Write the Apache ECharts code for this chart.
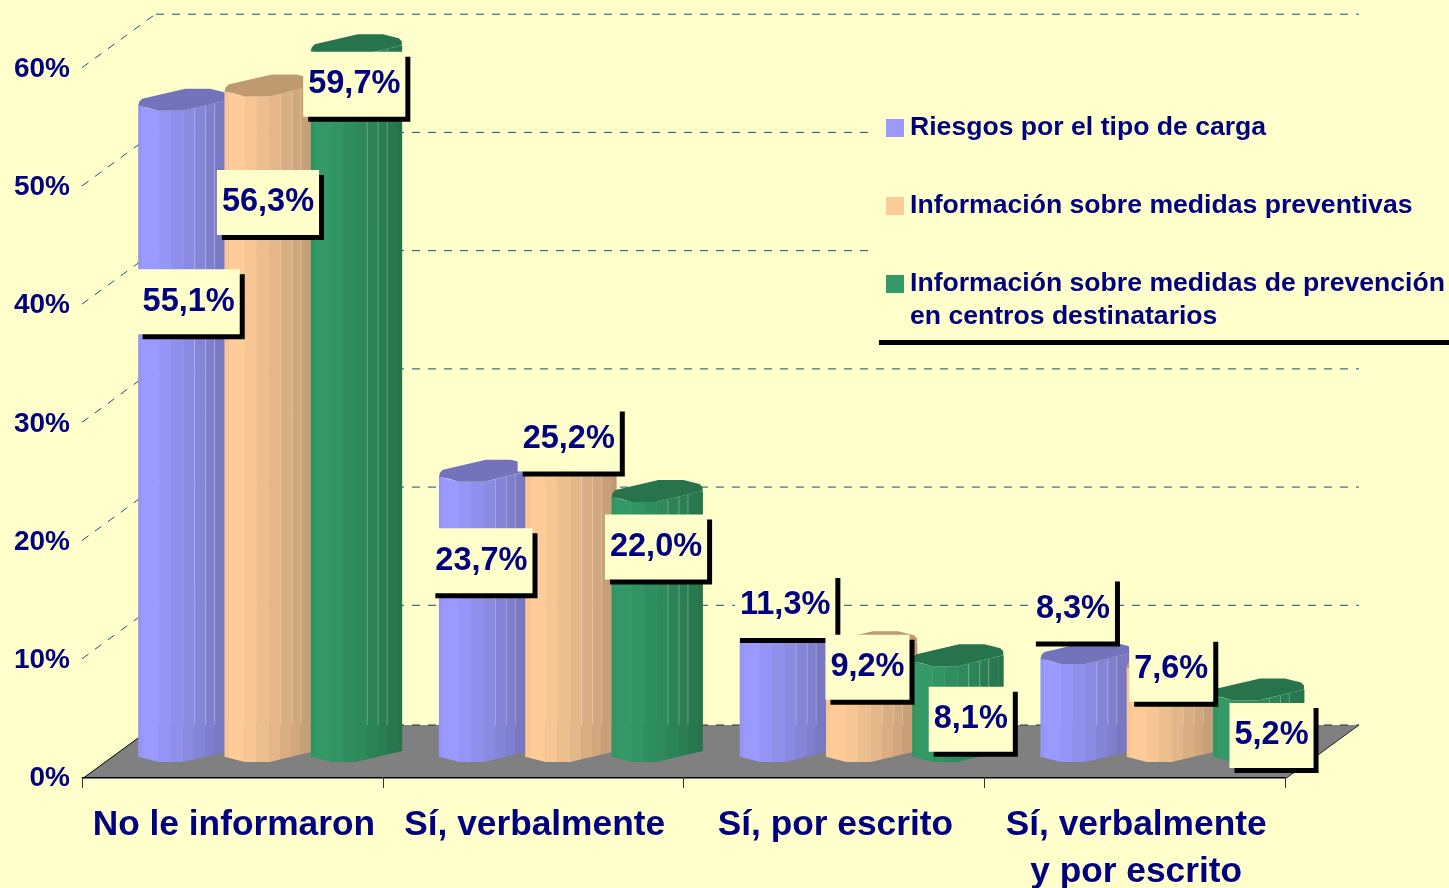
<!DOCTYPE html>
<html><head><meta charset="utf-8">
<style>html,body{margin:0;padding:0;background:#FFFFCC}#c{width:1449px;height:888px}</style>
<script src="https://cdn.jsdelivr.net/npm/echarts@6/dist/echarts.min.js"></script>
</head><body><div id="c"></div>
<script>
const categories = ['No le informaron', 'Sí, verbalmente', 'Sí, por escrito', 'Sí, verbalmente\ny por escrito'];
const seriesNames = ['Riesgos por el tipo de carga', 'Información sobre medidas preventivas', 'Información sobre medidas de prevención en centros destinatarios'];
const riesgos = [55.1, 23.7, 11.3, 8.3];
const preventivas = [56.3, 25.2, 9.2, 7.6];
const destinatarios = [59.7, 22.0, 8.1, 5.2];
const yTicks = [0, 10, 20, 30, 40, 50, 60];

const NAVY = '#000080', BG = '#FFFFCC';
const palette = [
  {face: [153,153,255], end: [117,117,187], cap: '#7373BB'},
  {face: [255,204,153], end: [191,153,115], cap: '#BF9970'},
  {face: [51,153,102],  end: [38,115,76],   cap: '#26734C'}
];
// 3D projection of the original chart, in pixels
const DEPTH_X = 74, DEPTH_Y = -54, BASE_DROP = 15, FLOOR_DROP = 2;
const BAR_W = 91, BAR_PITCH = 86.3, FIRST_BAR = -94.2;
// label placement relative to each bar's centre/top
const labelShift = [
  [[5,191],[-3,79],[0,-23],[-13,-55]],
  [[-2,106],[-2,-25],[-4,14],[-1,-3]],
  [[-2,28],[-1,45],[13,53],[13,35]]
];
const facetEdges = [0,4,20,32,45,56,67,76,86,91];
const facetShade = [.12,0,.12,.28,.42,.58,.72,.88,1];
const highlightEdges = [56,67,76];
function profile(dx){
  const k=[[0,-5],[10,-3],[20,0],[45,0],[91,-11]];
  for(let i=1;i<k.length;i++) if(dx<=k[i][0]){
    const t=(dx-k[i-1][0])/(k[i][0]-k[i-1][0]);
    return k[i-1][1]+t*(k[i][1]-k[i-1][1]);
  }
  return -11;
}
function mix(p,t){const c=p.face.map((v,i)=>Math.round(v+(p.end[i]-v)*t));return `rgb(${c})`;}

function barRenderer(s){
  return function(params, api){
    const cat=api.value(0), val=api.value(1);
    const top=api.coord([cat,val]), base=api.coord([cat,0]);
    const x0=top[0]+FIRST_BAR+s*BAR_PITCH, yT=top[1]-BASE_DROP, yB=base[1]-BASE_DROP;
    const backY=base[1]+DEPTH_Y+FLOOR_DROP;
    const children=[], p=palette[s];
    for(let i=0;i<facetShade.length;i++){
      const a=facetEdges[i], b=facetEdges[i+1];
      children.push({type:'polygon',shape:{points:[
        [x0+a,yT+profile(a)],[x0+b+.4,yT+profile(b)],[x0+b+.4,yB+profile(b)],[x0+a,yB+profile(a)]
      ]},style:{fill:mix(p,facetShade[i])}});
    }
    highlightEdges.forEach(e=>{
      children.push({type:'line',shape:{x1:x0+e+.5,y1:yT+profile(e),x2:x0+e+.5,y2:Math.max(backY,yT+profile(e))},
        style:{stroke:'rgba(255,255,255,.28)',lineWidth:1}});
    });
    const cap=[[0,-5],[1,-9],[4,-12],[47,-22],[72,-22],[80,-20],[88,-18],[91,-15],[91,-11],[45,0],[20,0],[10,-3]];
    children.push({type:'polygon',shape:{points:cap.map(q=>[x0+q[0],yT+q[1]])},style:{fill:p.cap}});
    return {type:'group',children};
  };
}
function wallRenderer(params, api){
  const tick=api.value(0), cs=params.coordSys, pt=api.coord([0,tick]);
  const y=pt[1], L=cs.x, R=cs.x+cs.width;
  const dash={stroke:'#1F4E79',lineWidth:1,lineDash:[8,8],fill:null};
  if(tick===0){
    const yF=y+FLOOR_DROP;
    return {type:'group',children:[
      {type:'polygon',shape:{points:[[L,yF],[R,yF],[R+DEPTH_X,yF+DEPTH_Y],[L+DEPTH_X,yF+DEPTH_Y]]},style:{fill:'#808080'}},
      {type:'line',shape:{x1:L,y1:yF,x2:L+DEPTH_X,y2:yF+DEPTH_Y},style:{stroke:'#000',lineWidth:1}},
      {type:'line',shape:{x1:R,y1:yF,x2:R+DEPTH_X,y2:yF+DEPTH_Y},style:{stroke:'#222',lineWidth:1}},
      {type:'line',shape:{x1:L+DEPTH_X,y1:yF+DEPTH_Y,x2:R+DEPTH_X,y2:yF+DEPTH_Y},style:{stroke:'#333',lineWidth:1,lineDash:[8,8]}}
    ]};
  }
  return {type:'group',children:[
    {type:'line',shape:{x1:L,y1:y,x2:L+DEPTH_X,y2:y+DEPTH_Y},style:Object.assign({},dash)},
    {type:'line',shape:{x1:L+DEPTH_X,y1:y+DEPTH_Y+.5,x2:R+DEPTH_X,y2:y+DEPTH_Y+.5},style:Object.assign({},dash)}
  ]};
}
function labelRenderer(params, api){
  const s=api.value(0), cat=api.value(1), val=api.value(2);
  const top=api.coord([cat,val]);
  const cx=top[0]+FIRST_BAR+s*BAR_PITCH+BAR_W/2, yT=top[1]-BASE_DROP, sh=labelShift[s][cat];
  const text=val.toFixed(1).replace('.',',')+'%';
  return {type:'text',style:{
    text, x:cx+sh[0], y:yT+sh[1], align:'center', verticalAlign:'middle',
    font:'bold 32.5px "Liberation Sans", Arial, sans-serif', fill:NAVY,
    backgroundColor:BG, padding:[14,5,18,5], lineHeight:33,
    shadowColor:'#000', shadowBlur:0, shadowOffsetX:5, shadowOffsetY:5
  }};
}
const valueSets=[riesgos,preventivas,destinatarios];
const labelData=[];
valueSets.forEach((vals,s)=>vals.forEach((v,c)=>labelData.push([s,c,v])));

const FONT='"Liberation Sans", Arial, sans-serif';
function legendAt(top,name,extra){
  return Object.assign({show:true,left:886,top,orient:'vertical',data:[name],icon:'rect',itemWidth:18,itemHeight:18,itemGap:0,padding:0,
    selectedMode:false,z:10,textStyle:{color:NAVY,fontFamily:FONT,fontWeight:'bold',fontSize:26.6,lineHeight:33,padding:[2,0,0,1]}},extra||{});
}
const chart=echarts.init(document.getElementById('c'),null,{renderer:'canvas'});
chart.setOption({
  animation:false,
  backgroundColor:BG,
  grid:{left:82,right:164,top:67.7,bottom:111,containLabel:false,outerBoundsMode:'none'},
  xAxis:{type:'category',data:categories,offset:FLOOR_DROP,z:5,
    axisLine:{show:true,lineStyle:{color:'#000',width:1}},
    axisTick:{show:true,length:11,lineStyle:{color:'#333',width:1}},
    axisLabel:{interval:0,margin:23,
      formatter:v=>v.split('\n').map(l=>`{a|${l}}`).join('\n'),
      rich:{a:{color:NAVY,fontFamily:FONT,fontWeight:'bold',fontSize:35.3,lineHeight:47,padding:[0,0,0,3]}}}},
  yAxis:{type:'value',min:0,max:60,interval:10,
    axisLine:{show:false},axisTick:{show:false},splitLine:{show:false},
    axisLabel:{margin:12,formatter:'{v|{value}%}',
      rich:{v:{color:NAVY,fontFamily:FONT,fontWeight:'bold',fontSize:28,padding:[3,0,0,0]}}}},
  legend:[
    legendAt(110.5,seriesNames[0]),
    legendAt(188.5,seriesNames[1]),
    legendAt(233.5,seriesNames[2],{formatter:()=>'\nInformación sobre medidas de prevención\nen centros destinatarios'})
  ],
  graphic:[
    {type:'rect',z:6,shape:{x:873,y:100,width:576,height:240},style:{fill:BG}},
    {type:'rect',z:6,shape:{x:879,y:340,width:570,height:5},style:{fill:'#000'}}
  ],
  series:[
    {type:'custom',name:'paredes',z:1,silent:true,coordinateSystem:'cartesian2d',data:yTicks.map(t=>[t]),encode:{x:-1,y:0},renderItem:wallRenderer},
    ...valueSets.map((vals,s)=>({type:'custom',name:seriesNames[s],z:2+s,silent:true,coordinateSystem:'cartesian2d',
      itemStyle:{color:mix(palette[s],0)},
      data:vals.map((v,c)=>[c,v]),encode:{x:0,y:1},renderItem:barRenderer(s)})),
    {type:'custom',name:'etiquetas',z:8,silent:true,coordinateSystem:'cartesian2d',data:labelData,encode:{x:1,y:2},renderItem:labelRenderer}
  ]
});
</script></body></html>
